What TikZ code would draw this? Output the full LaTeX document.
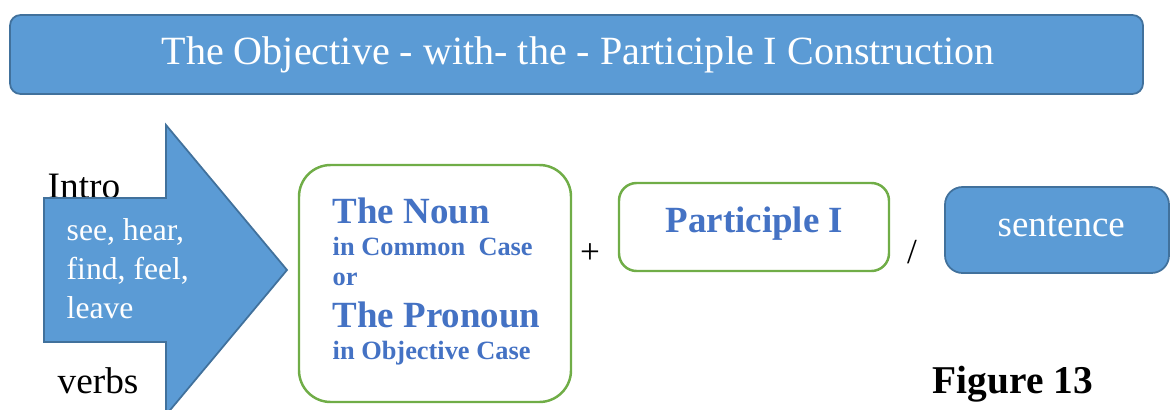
\documentclass[tikz,border=0pt]{standalone}
\usepackage{fontspec}
\setmainfont{Liberation Serif}
\definecolor{boxblue}{HTML}{5B9BD5}
\definecolor{edgeblue}{HTML}{41719C}
\definecolor{textblue}{HTML}{4472C4}
\definecolor{boxgreen}{HTML}{70AD47}
\tikzset{
  bluebox/.style={draw=edgeblue, fill=boxblue, line width=0.5pt},
  greenbox/.style={draw=boxgreen, fill=white, line width=0.7pt},
  bluetext/.style={text=textblue, font=\bfseries, inner sep=0pt, anchor=base west},
  plain/.style={inner sep=0pt, anchor=base west}
}

\begin{document}
\begin{tikzpicture}[x=0.01cm, y=-0.01cm]
			%%%%% START %%%%%
			\useasboundingbox (0, 0) rectangle (1170, 409);
			
			% title bar
			\draw[bluebox, rounded corners=3pt] (10, 15) rectangle (1143, 94);
			\node[text=white, font=\fontsize{11.4}{13}\selectfont] (title) at (578, 55) {The Objective - with- the - Participle I Construction};
			
			% intro arrow
			\node[plain, font=\fontsize{10.6}{12}\selectfont] (intro) at (47, 198) {Intro};
			\draw[bluebox] (44, 198) -- (166, 198) -- (166, 125) -- (287, 270) -- (166, 415) -- (166, 342) -- (44, 342) -- cycle;
			\node[plain, text=white, font=\fontsize{9}{11}\selectfont] (see) at (66, 240) {see, hear,};
			\node[plain, text=white, font=\fontsize{9}{11}\selectfont] (find) at (66, 279) {find, feel,};
			\node[plain, text=white, font=\fontsize{9}{11}\selectfont] (leave) at (66, 318) {leave};
			\node[plain, font=\fontsize{10.6}{12}\selectfont] (verbs) at (57, 393) {verbs};
			
			% noun / pronoun
			\draw[greenbox, rounded corners=9pt] (299, 165) rectangle (571, 402);
			\node[bluetext, font=\bfseries\fontsize{10.5}{12}\selectfont] (noun) at (332, 223) {The Noun};
			\node[bluetext, font=\bfseries\fontsize{7.5}{9}\selectfont] (common) at (332, 255) {in Common\ \ Case};
			\node[bluetext, font=\bfseries\fontsize{7.5}{9}\selectfont] (or) at (332, 285) {or};
			\node[bluetext, font=\bfseries\fontsize{10.5}{12}\selectfont] (pronoun) at (332, 327) {The Pronoun};
			\node[bluetext, font=\bfseries\fontsize{7.5}{9}\selectfont] (objcase) at (332, 359) {in Objective Case};
			
			\node[font=\fontsize{10}{12}\selectfont] (plus) at (590, 254) {+};
			
			% participle
			\draw[greenbox, rounded corners=5pt] (619, 183) rectangle (889, 271);
			\node[bluetext, font=\bfseries\fontsize{10.5}{12}\selectfont] (part) at (665, 232) {Participle I};
			
			\node[font=\fontsize{10}{12}\selectfont] (slash) at (912, 252) {/};
			
			% sentence
			\draw[bluebox, rounded corners=5pt] (945, 187) rectangle (1169, 273);
			\node[plain, text=white, font=\fontsize{10.5}{12}\selectfont] (sent) at (997, 236) {sentence};
			
			\node[plain, font=\bfseries\fontsize{11.2}{13}\selectfont] (fig) at (932, 393) {Figure 13};
			%%%%% END %%%%%
\end{tikzpicture}
\end{document}
